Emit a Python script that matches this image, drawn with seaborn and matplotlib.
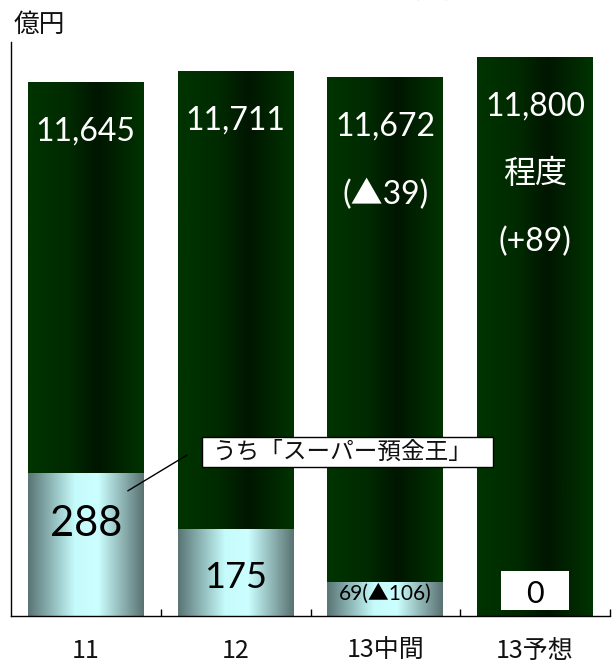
import numpy as np
import pandas as pd
import matplotlib
matplotlib.use("Agg")
import matplotlib.pyplot as plt
import seaborn as sns
from matplotlib.colors import LinearSegmentedColormap
from matplotlib.patches import Rectangle

# ---- data ----
categories = ["11", "12", "13中間", "13予想"]
totals = [11645, 11711, 11672, 11800]          # 預金残高 (億円)
super_yokin = [288, 175, 69, 0]                # うち「スーパー預金王」
total_labels = ["11,645", "11,711", "11,672\n(▲39)", "11,800\n程度\n(+89)"]
sub_labels = ["288", "175", "69(▲106)", "0"]
unit_label = "億円"
note_label = "（　）内は前年度比"
callout_label = "うち「スーパー預金王」"

sns.set_theme(style="white")
plt.rcParams["font.family"] = ["Lato", "Noto Sans CJK JP", "DejaVu Sans"]
JP = ["Noto Sans CJK JP", "DejaVu Sans"]

df = pd.DataFrame({"区分": categories, "残高": totals, "うち": super_yokin})

fig = plt.figure(figsize=(6.14, 6.70), dpi=100)
ax = fig.add_axes([11 / 614, 54 / 670, 599 / 614, 574 / 670])

# compressed value axis: small sub-balances and the large totals share one panel
knots_v = [-1000, 0, 400, 11400, 13000]
knots_px = [-500, 0, 200, 495, 755]


def fwd(v):
    return np.interp(v, knots_v, knots_px)


def inv(p):
    return np.interp(p, knots_px, knots_v)


ax.set_yscale("function", functions=(fwd, inv))

bar_w = 0.775
sns.barplot(data=df, x="区分", y="残高", color="#002200", width=bar_w,
            saturation=1, ax=ax, errorbar=None)
sns.barplot(data=df, x="区分", y="うち", color="#c8ffff", width=bar_w,
            saturation=1, ax=ax, errorbar=None)

dark_cmap = LinearSegmentedColormap.from_list(
    "dark", [(0, "#003400"), (0.35, "#002a00"), (0.6, "#001600"), (1, "#003400")])
light_cmap = LinearSegmentedColormap.from_list(
    "light", [(0, "#5a7676"), (0.4, "#c6fbfb"), (0.6, "#ccffff"), (1, "#587070")])

grad = np.linspace(0, 1, 256).reshape(1, -1)
patches = list(ax.patches)
for k, p in enumerate(patches):
    cmap = dark_cmap if k < len(categories) else light_cmap
    x0, y0, w, h = p.get_x(), p.get_y(), p.get_width(), p.get_height()
    if h <= 0:
        p.set_visible(False)
        continue
    im = ax.imshow(grad, extent=(x0, x0 + w, y0, y0 + h), aspect="auto",
                   cmap=cmap, origin="lower", interpolation="bilinear",
                   zorder=p.get_zorder())
    im.set_clip_path(p)
    p.set_facecolor("none")
    p.set_edgecolor("none")

ax.set_xlim(-0.5, 3.5)
ax.set_ylim(0, 11887)
ax.set_xlabel("")
ax.set_ylabel("")
ax.set_yticks([])

# boundary ticks + centred category labels
ax.set_xticks([0.5, 1.5, 2.5, 3.5])
ax.set_xticklabels([])
ax.set_xticks(range(len(categories)), minor=True)
ax.set_xticklabels(categories, minor=True, fontsize=18, family=JP, color="#111111")
ax.tick_params(axis="x", which="major", direction="in", length=5, width=1,
               color="black", bottom=True)
ax.tick_params(axis="x", which="minor", length=0, pad=16, bottom=True)

sns.despine(ax=ax, top=True, right=True)
for side in ("left", "bottom"):
    ax.spines[side].set_color("black")
    ax.spines[side].set_linewidth(1.0)

# totals written inside the dark bars
for i, lab in enumerate(total_labels):
    for k, line in enumerate(lab.split("\n")):
        ax.annotate(line, xy=(i, totals[i]), xytext=(0, -50 - 68 * k),
                    textcoords="offset pixels", ha="center", va="center",
                    color="white", fontsize=23, zorder=5)

# sub-balance labels near the base
sub_sizes = [30, 26, 15, 22]
sub_offsets = [92, 38, 22, 22]
for i, lab in enumerate(sub_labels):
    if super_yokin[i] == 0:
        ax.add_patch(Rectangle((i - 0.227, 6 / 574), 0.453, 39 / 574,
                               transform=ax.get_xaxis_transform(),
                               facecolor="white", edgecolor="none", zorder=4))
    ax.annotate(lab, xy=(i, 0), xytext=(0, sub_offsets[i]),
                textcoords="offset pixels", ha="center", va="center",
                color="black", fontsize=sub_sizes[i], zorder=5)

# callout box for the sub-series
ax.add_patch(Rectangle((0.319, 0.2596), 0.486, 0.0523, transform=ax.transAxes,
                       facecolor="white", edgecolor="black", linewidth=1,
                       zorder=6, clip_on=False))
ax.text(0.5526, 0.2857, callout_label, transform=ax.transAxes, ha="center",
        va="center", fontsize=17, family=JP, color="#111111", zorder=7)
ax.annotate("", xy=(0.195, 0.218), xycoords="axes fraction",
            xytext=(0.294, 0.2805), textcoords="axes fraction",
            arrowprops=dict(arrowstyle="-", color="black", lw=1,
                            shrinkA=0, shrinkB=0), zorder=6)

fig.text(14 / 614, 1 - 25 / 670, unit_label, ha="left", va="center",
         fontsize=18.5, family=JP, color="#111111")
fig.text(610 / 614, 1 + 2.5 / 670, note_label, ha="right", va="baseline",
         fontsize=17, family=JP, color="#111111")

fig.savefig("out.png", dpi=100)
